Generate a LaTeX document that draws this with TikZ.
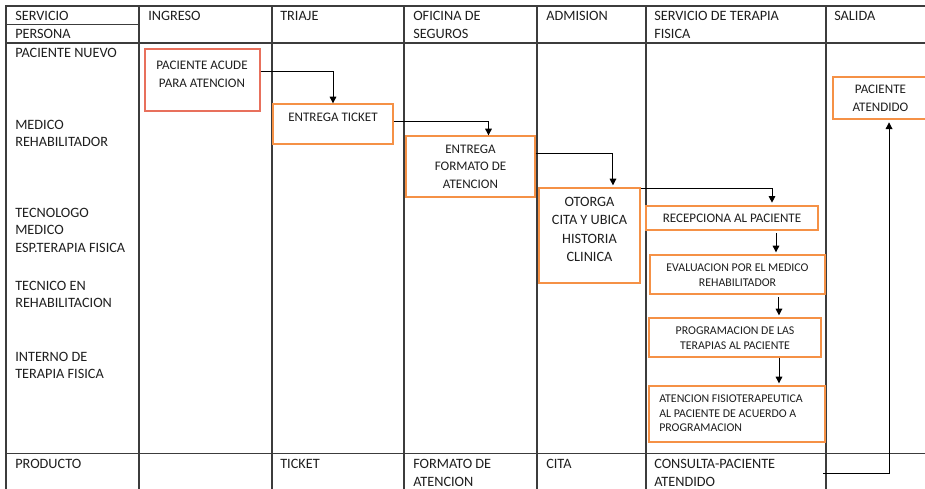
\documentclass[tikz,border=0pt]{standalone}
\usepackage{fontspec}
\setmainfont{Carlito}
\usetikzlibrary{arrows.meta,fit}
\definecolor{boxred}{RGB}{232,112,92}
\definecolor{boxorange}{RGB}{245,145,70}
\definecolor{gridc}{RGB}{60,60,60}
\definecolor{txt}{RGB}{30,30,30}
\begin{document}
\begin{tikzpicture}[x=0.75pt,y=-0.75pt,
  grid/.style={draw=gridc,line width=0.9pt},
  cell/.style={anchor=north west,inner sep=0pt,align=left,text=txt,font=\fontsize{10.7}{13.4}\selectfont},
  rbox/.style={draw=boxred,line width=1pt,inner sep=0pt,fit={#1}},
  obox/.style={draw=boxorange,line width=1pt,inner sep=0pt,fit={#1}},
  btxt/.style={inner sep=0pt,align=center,text=txt,font=\fontsize{9.8}{13.5}\selectfont},
  stxt/.style={inner sep=0pt,align=center,text=txt,font=\fontsize{8.9}{11}\selectfont},
  arr/.style={draw=black,line width=0.75pt,-{Triangle[length=5pt,width=5pt]}}]
\useasboundingbox (0,0) rectangle (925,489);
\clip (0,0) rectangle (925,489);
% table grid
\draw[grid] (6,495) -- (6,6) -- (930,6);
\draw[grid] (6,24.5) -- (139,24.5);
\draw[grid] (6,43) -- (930,43);
\draw[grid] (6,453.5) -- (930,453.5);
\foreach \x in {139,272,404,537,646,826} \draw[grid] (\x,6) -- (\x,495);
% header texts
\node[cell] (h0) at (15,11) {SERVICIO};
\node[cell] (h0b) at (15,29) {PERSONA};
\node[cell] (h1) at (148,11) {INGRESO};
\node[cell] (h2) at (280,11) {TRIAJE};
\node[cell] (h3) at (413,11) {OFICINA DE\\SEGUROS};
\node[cell] (h4) at (546,11) {ADMISION};
\node[cell] (h5) at (654,11) {SERVICIO DE TERAPIA\\FISICA};
\node[cell] (h6) at (834,11) {SALIDA};
% persons
\node[cell] (p1) at (15,47.5) {PACIENTE NUEVO};
\node[cell] (p2) at (15,119.5) {MEDICO\\REHABILITADOR};
\node[cell] (p3) at (15,207.5) {TECNOLOGO\\MEDICO\\ESP.TERAPIA FISICA};
\node[cell] (p4) at (15,280.5) {TECNICO EN\\REHABILITACION};
\node[cell] (p5) at (15,351.5) {INTERNO DE\\TERAPIA FISICA};
% product row
\node[cell] (r0) at (15,459) {PRODUCTO};
\node[cell] (r2) at (280,459) {TICKET};
\node[cell] (r3) at (413,459) {FORMATO DE\\ATENCION};
\node[cell] (r4) at (546,459) {CITA};
\node[cell] (r5) at (654,459) {CONSULTA-PACIENTE\\ATENDIDO};
% boxes
\node[rbox={(145,49) (260,111)}] (b1) {};
\node[obox={(273,104) (393,144)}] (b2) {};
\node[obox={(406,136) (535,197)}] (b3) {};
\node[obox={(539,188) (640,283)}] (b4) {};
\node[obox={(646,206) (818,230)}] (b5) {};
\node[obox={(650,255) (825,294)}] (b6) {};
\node[obox={(649,318) (821,357)}] (b7) {};
\node[obox={(649,386) (825,442)}] (b8) {};
\node[obox={(833,77) (928,119)}] (b9) {};
% box texts
\node[btxt] (t1) at (202,74) {PACIENTE ACUDE\\PARA ATENCION};
\node[btxt] (t2) at (333,117) {ENTREGA TICKET};
\node[btxt,font=\fontsize{9.8}{13.1}\selectfont] (t3) at (470.5,166.5) {ENTREGA\\FORMATO DE\\ATENCION};
\node[btxt,font=\fontsize{10.7}{13.9}\selectfont] (t4) at (589.5,229.5) {OTORGA\\CITA Y UBICA\\HISTORIA\\CLINICA};
\node[btxt] (t5) at (732,218) {RECEPCIONA AL PACIENTE};
\node[stxt] (t6) at (737.5,275) {EVALUACION POR EL MEDICO\\REHABILITADOR};
\node[stxt] (t7) at (735,338) {PROGRAMACION DE LAS\\TERAPIAS AL PACIENTE};
\node[stxt,anchor=west,align=left] (t8) at (659,413.5) {ATENCION FISIOTERAPEUTICA\\AL PACIENTE DE ACUERDO A\\PROGRAMACION};
\node[btxt] (t9) at (880.5,98) {PACIENTE\\ATENDIDO};
% connectors
\draw[arr] ([yshift=6.75pt]b1.east) -| (b2.north);
\draw[arr] ([yshift=2.25pt]b2.east) -| ([xshift=13.5pt]b3.north);
\draw[arr,shorten >=1.5pt] ([yshift=9.4pt]b3.east) -| ([xshift=17.6pt]b4.north);
\draw[arr,shorten >=2pt] ([yshift=-0.75pt]b4.north east) -| ([xshift=30pt]b5.north);
\draw[arr,shorten <=2pt,shorten >=1.5pt] ([xshift=33pt]b5.south) -- ([xshift=33pt]b5.south |- b6.north);
\draw[arr,shorten <=2pt,shorten >=1.5pt] ([xshift=31.1pt]b6.south) -- ([xshift=31.1pt]b6.south |- b7.north);
\draw[arr,shorten >=1.5pt] ([xshift=33pt]b7.south) -- ([xshift=33pt]b7.south |- b8.north);
\coordinate (c1) at (823,473);
\draw[arr,shorten >=2pt] (c1) -| ([xshift=6.4pt]b9.south);
\end{tikzpicture}
\end{document}
